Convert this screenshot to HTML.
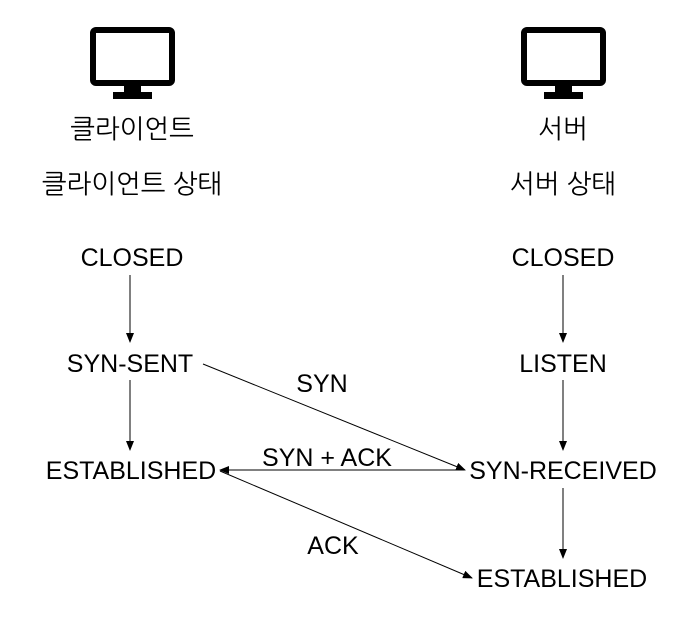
<html><body style="margin:0;background:#fff">
<svg width="687" height="641" xmlns="http://www.w3.org/2000/svg" style="display:block">
<defs><marker id="a" markerWidth="10" markerHeight="8" refX="9" refY="4" orient="auto" markerUnits="userSpaceOnUse"><path d="M0,0 L10,4 L0,8 Z" fill="#000"/></marker></defs>
<g fill="none" stroke="#000" stroke-width="6">
<rect x="93" y="30" width="79" height="53" rx="3"/>
<rect x="524" y="30" width="79" height="53" rx="3"/>
</g>
<g fill="#000">
<rect x="124" y="85" width="17" height="8"/><rect x="113" y="92" width="39" height="7"/>
<rect x="555" y="85" width="17" height="8"/><rect x="544" y="92" width="39" height="7"/>
</g>
<g font-family="Liberation Sans, NanumGothic, sans-serif" font-size="26.3" text-anchor="middle" fill="#000">
<text x="132" y="138">클라이언트</text>
<text x="132" y="193">클라이언트 상태</text>
<text x="563" y="138">서버</text>
<text x="563" y="193">서버 상태</text>
</g>
<g font-family="Liberation Sans, sans-serif" font-size="25" text-anchor="middle" fill="#000">
<text x="132" y="266">CLOSED</text>
<text x="130" y="372">SYN-SENT</text>
<text x="131" y="479">ESTABLISHED</text>
<text x="563" y="266">CLOSED</text>
<text x="563" y="372">LISTEN</text>
<text x="563" y="479">SYN-RECEIVED</text>
<text x="562" y="587">ESTABLISHED</text>
<text x="322" y="392">SYN</text>
<text x="327" y="466">SYN + ACK</text>
<text x="333" y="554">ACK</text>
</g>
<g stroke="#000" stroke-width="1" marker-end="url(#a)">
<line x1="130" y1="275" x2="130" y2="342"/>
<line x1="130" y1="380" x2="130" y2="450"/>
<line x1="563" y1="275" x2="563" y2="342"/>
<line x1="563" y1="380" x2="563" y2="450"/>
<line x1="563" y1="488" x2="563" y2="558"/>
<line x1="203" y1="364" x2="465" y2="470"/>
<line x1="464" y1="470" x2="220" y2="470"/>
<line x1="220" y1="471" x2="472" y2="578"/>
</g>
</svg>
</body></html>
